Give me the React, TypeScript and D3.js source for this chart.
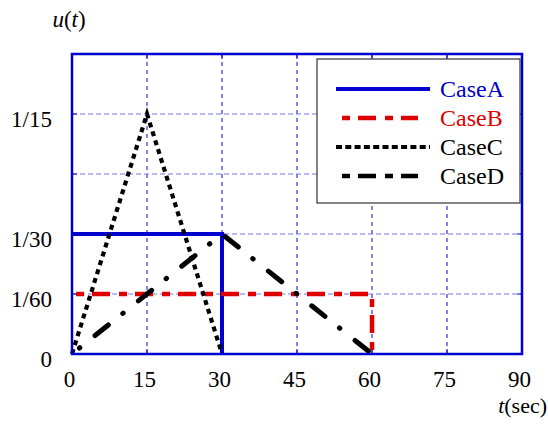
import React from 'react';
import * as d3 from 'd3';

// series: time (sec) and u(t)
const caseAT = [0, 30, 30];
const caseAU = [1 / 30, 1 / 30, 0];
const caseBT = [0, 60, 60];
const caseBU = [1 / 60, 1 / 60, 0];
const caseCT = [0, 15, 30];
const caseCU = [0, 1 / 15, 0];
const caseDT = [0, 30, 60];
const caseDU = [0, 1 / 30, 0];

const xTicks = [0, 15, 30, 45, 60, 75, 90];
const yTicks = [0, 1 / 60, 1 / 30, 1 / 20, 1 / 15, 1 / 12];
const yTickLabels = ['0', '1/60', '1/30', '', '1/15', ''];
const legendNames = ['CaseA', 'CaseB', 'CaseC', 'CaseD'];

const BLUE = '#0000d0';
const RED = '#e00000';
const FONT = 'Liberation Serif';

const App = () => {
  const margin = { top: 54, left: 72 };
  const w = 450;
  const h = 300;

  const x = d3.scaleLinear().domain([0, 90]).range([0, w]);
  const y = d3.scaleLinear().domain([0, 1 / 12]).range([h, 0]);

  const line = (ts: number[], us: number[]) =>
    d3
      .line<number>()
      .x((_, i) => x(ts[i]))
      .y((d) => y(d))(us) || '';

  const styles = [
    { stroke: BLUE, width: 4, dash: 'none', offset: 0, cap: 'butt' },
    { stroke: RED, width: 4.5, dash: '18,9,8,8', offset: 23, cap: 'butt' },
    { stroke: '#000', width: 4.2, dash: '5,4.3', offset: 0, cap: 'butt' },
    { stroke: '#000', width: 5, dash: '17,18.5,0.5,19.5', offset: 26, cap: 'round' },
  ];
  const series = [
    [caseAT, caseAU],
    [caseBT, caseBU],
    [caseCT, caseCU],
    [caseDT, caseDU],
  ];
  const tick = { fontFamily: FONT, fontSize: 23 };
  const leg = { fontFamily: FONT, fontSize: 24 };

  return (
    <svg width={548} height={424} style={{ position: 'absolute', left: 0, top: 0 }}>
      <rect width={548} height={424} fill="#fff" />
      <g transform={`translate(${margin.left},${margin.top})`}>
        {/* grid */}
        {xTicks.slice(1, -1).map((t) => (
          <line key={'gx' + t} x1={x(t)} x2={x(t)} y1={0} y2={h} stroke="#0a0abc" strokeWidth={1} strokeDasharray="4,4" />
        ))}
        {yTicks.slice(0, -1).map((t) => (
          <line key={'gy' + t} x1={0} x2={w} y1={y(t)} y2={y(t)} stroke="#7474ec" strokeWidth={1} strokeDasharray="5,3" />
        ))}
        {/* inner ticks */}
        {xTicks.slice(1, -1).map((t) => (
          <g key={'tx' + t}>
            <line x1={x(t)} x2={x(t)} y1={h} y2={h - 5} stroke={BLUE} strokeWidth={1} />
            <line x1={x(t)} x2={x(t)} y1={0} y2={5} stroke={BLUE} strokeWidth={1} />
          </g>
        ))}
        {yTicks.slice(1, -1).map((t) => (
          <g key={'ty' + t}>
            <line x1={0} x2={5} y1={y(t)} y2={y(t)} stroke={BLUE} strokeWidth={1} />
            <line x1={w} x2={w - 5} y1={y(t)} y2={y(t)} stroke={BLUE} strokeWidth={1} />
          </g>
        ))}
        {/* series */}
        {series.map(([ts, us], i) => (
          <path
            key={'s' + i}
            d={line(ts, us)}
            fill="none"
            stroke={styles[i].stroke}
            strokeWidth={styles[i].width}
            strokeDasharray={styles[i].dash}
            strokeDashoffset={styles[i].offset}
            strokeLinecap={styles[i].cap as any}
            strokeLinejoin="miter"
          />
        ))}
        {/* frame */}
        <rect x={0} y={0} width={w} height={h} fill="none" stroke={BLUE} strokeWidth={2.5} />
        {/* legend */}
        <g transform="translate(245,5)">
          <rect x={0} y={0} width={203} height={144} fill="#fff" stroke="#333" strokeWidth={1.2} />
          {legendNames.map((n, i) => {
            const ly = 30 + i * 29;
            const s = styles[i];
            const isDashDot = i === 1 || i === 3;
            return (
              <g key={n}>
                <line
                  x1={isDashDot ? 25 : 19}
                  x2={isDashDot ? 101 : 113}
                  y1={ly}
                  y2={ly}
                  stroke={s.stroke}
                  strokeWidth={i === 3 ? 4.5 : s.width}
                  strokeDasharray={isDashDot ? '18,9,8,8' : i === 2 ? '6,3.3' : 'none'}
                  strokeDashoffset={isDashDot ? 27 : 0}
                />
                <text x={123} y={ly + 7.5} style={leg} fill={i === 0 ? BLUE : i === 1 ? RED : '#000'}>
                  {n}
                </text>
              </g>
            );
          })}
        </g>
        {/* tick labels */}
        {xTicks.map((t) => (
          <text key={'lx' + t} x={x(t) - 2.5} y={h + 33} textAnchor="middle" style={tick} fill="#000">
            {t}
          </text>
        ))}
        {yTicks.map((t, i) =>
          yTickLabels[i] ? (
            <text key={'ly' + i} x={-20} y={y(t) + 13} textAnchor="end" style={tick} fill="#000">
              {yTickLabels[i]}
            </text>
          ) : null
        )}
      </g>
      <text x={69} y={27} textAnchor="middle" style={tick} fill="#000">
        <tspan fontStyle="italic">u</tspan>(<tspan fontStyle="italic">t</tspan>)
      </text>
      <text x={547} y={413} textAnchor="end" style={{ fontFamily: FONT, fontSize: 22 }} fill="#000">
        <tspan fontStyle="italic">t</tspan>(sec)
      </text>
    </svg>
  );
};

export default App;
